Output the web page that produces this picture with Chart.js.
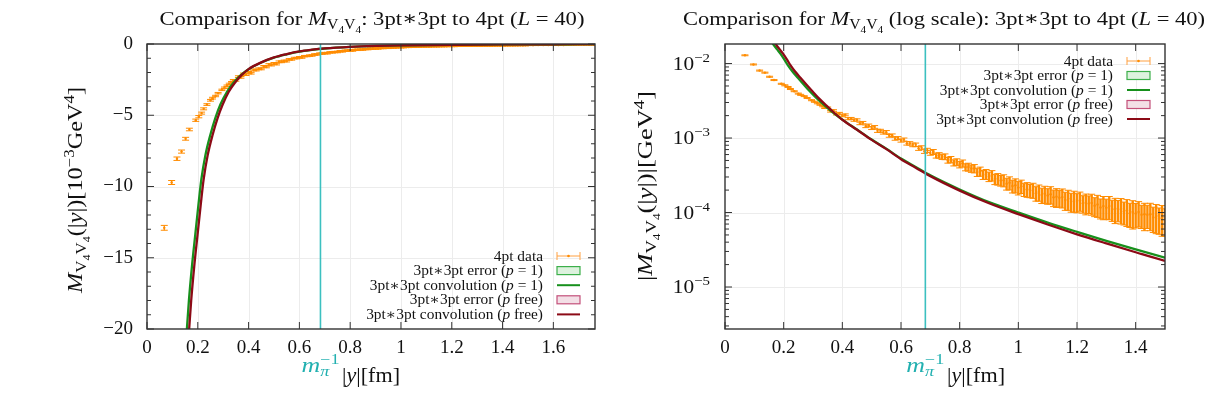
<!DOCTYPE html>
<html><head><meta charset="utf-8">
<script src="https://cdn.jsdelivr.net/npm/chart.js@4.4.0/dist/chart.umd.min.js"></script>
<style>
html,body{margin:0;padding:0;background:#fff;}
#wrap{position:relative;width:1223px;height:393px;overflow:hidden;background:#fff;}
canvas{position:absolute;top:0;}
</style>
</head><body>
<div id="wrap">
<canvas id="cLin" width="611" height="393" style="left:0px"></canvas>
<canvas id="cLog" width="612" height="393" style="left:611px"></canvas>
</div>
<script>
// ---------------- data ----------------
// 4pt data: |y| [fm], M_V4V4 [1e-3 GeV^4], error [1e-3 GeV^4]
const x4pt = [0.068,0.097,0.118,0.136,0.152,0.167,0.192,0.204,0.215,0.223,0.236,0.250,0.258,0.270,0.280,0.295,0.305,0.315,0.324,0.333,
  0.34,0.35,0.36,0.37,0.38,0.39,0.40,0.41,0.42,0.43,0.44,0.45,0.46,0.47,0.48,0.49,0.50,0.51,0.52,0.53,0.54,0.55,
  0.56,0.57,0.58,0.59,0.60,0.61,0.62,0.63,0.64,0.65,0.66,0.67,0.68,0.69,0.70,
  0.71,0.72,0.73,0.74,0.75,0.76,0.77,0.78,0.79,0.80,0.81,0.82,0.83,0.84,0.85,0.86,0.87,0.88,0.89,0.90,
  0.91,0.92,0.93,0.94,0.95,0.96,0.97,0.98,0.99,1.00,
  1.01,1.02,1.03,1.04,1.05,1.06,1.07,1.08,1.09,1.10,1.11,1.12,1.13,1.14,1.15,1.16,1.17,1.18,1.19,1.20,
  1.21,1.22,1.23,1.24,1.25,1.26,1.27,1.28,1.29,1.30,1.31,1.32,1.33,1.34,1.35,1.36,1.37,1.38,1.39,1.40,
  1.41,1.42,1.43,1.44,1.45,1.46,1.47,1.48,1.49,1.50,
  1.52,1.54,1.56,1.58,1.60,1.62,1.64,1.66,1.68,1.70,1.72,1.74,1.76];
const m4pt = [-12.9,-9.72,-8.05,-7.55,-6.65,-6.0,-5.35,-5.1,-4.85,-4.55,-4.25,-3.95,-3.8,-3.65,-3.45,-3.22,-3.07,-2.93,-2.8,-2.68,
  -2.55,-2.55,-2.29,-2.34,-2.10,-2.15,-1.99,-2.05,-1.82,-1.83,-1.74,-1.75,-1.57,-1.61,-1.44,-1.48,-1.36,-1.41,-1.25,-1.25,-1.19,-1.20,
  -1.07,-1.09,-0.979,-1.00,-0.926,-0.956,-0.849,-0.848,-0.81,-0.811,-0.728,-0.742,-0.667,-0.683,-0.632,
  -0.651,-0.582,-0.586,-0.56,-0.562,-0.504,-0.515,-0.466,-0.476,-0.441,-0.457,-0.407,-0.409,-0.39,-0.39,-0.349,-0.357,-0.322,-0.328,-0.304,
  -0.315,-0.281,-0.283,-0.27,-0.271,-0.244,-0.251,-0.227,-0.233,-0.216,
  -0.226,-0.204,-0.206,-0.198,-0.201,-0.182,-0.188,-0.172,-0.179,-0.169,-0.176,-0.160,-0.163,-0.158,-0.161,-0.147,-0.153,-0.141,-0.147,-0.139,
  -0.146,-0.133,-0.135,-0.132,-0.134,-0.123,-0.128,-0.117,-0.122,-0.116,-0.122,-0.111,-0.113,-0.110,-0.112,-0.103,-0.107,-0.098,-0.102,-0.097,
  -0.102,-0.093,-0.095,-0.093,-0.095,-0.086,-0.090,-0.083,-0.086,-0.080,
  -0.080,-0.077,-0.075,-0.072,-0.069,-0.067,-0.065,-0.063,-0.061,-0.058,-0.056,-0.055,-0.053];
const e4pt = [0.17,0.14,0.12,0.11,0.10,0.09,0.08,0.08,0.07,0.07,0.06,0.06,0.06,0.05,0.05,0.05,0.05,0.05,0.05,0.05,
  0.06,0.06,0.06,0.06,0.06,0.06,0.06,0.06,0.06,0.06,0.06,0.06,0.06,0.06,0.06,0.06,0.06,0.06,0.06,0.06,0.06,0.06,
  0.045,0.045,0.045,0.045,0.045,0.045,0.045,0.045,0.045,0.045,0.045,0.045,0.045,0.045,0.045,
  0.05,0.044,0.05,0.044,0.05,0.044,0.05,0.044,0.05,0.044,0.05,0.044,0.05,0.044,0.05,0.044,0.05,0.044,0.05,0.044,
  0.05,0.044,0.05,0.044,0.05,0.044,0.05,0.044,0.05,0.044,
  0.046,0.04,0.046,0.04,0.046,0.04,0.046,0.04,0.046,0.04,0.046,0.04,0.046,0.04,0.046,0.04,0.046,0.04,0.046,0.04,
  0.042,0.035,0.042,0.035,0.042,0.035,0.042,0.035,0.042,0.035,0.042,0.035,0.042,0.035,0.042,0.035,0.042,0.035,0.042,0.035,
  0.038,0.032,0.038,0.032,0.038,0.032,0.038,0.032,0.038,0.032,
  0.03,0.03,0.03,0.03,0.03,0.03,0.03,0.03,0.03,0.03,0.03,0.03,0.03];

// 3pt*3pt convolution (p = 1)
const xConvP1 = [0.150,0.157,0.165,0.177,0.190,0.203,0.214,0.230,0.249,0.269,0.289,0.315,0.341,0.367,0.400,0.450,0.500,0.550,0.600,0.650,0.700,0.800,0.900,1.000,1.100,1.200,1.300,1.400,1.500,1.600,1.700,1.764];
const mConvP1 = [-22.0,-20.0,-18.0,-15.6,-13.4,-11.2,-9.5,-7.8,-6.4,-5.2,-4.25,-3.35,-2.70,-2.22,-1.77,-1.30,-0.955,-0.72,-0.53,-0.41,-0.316,-0.204,-0.138,-0.100,-0.0733,-0.055,-0.0417,-0.032,-0.0248,-0.0195,-0.0155,-0.0135];
// 3pt*3pt convolution (p free)
const xConvPfree = [0.158,0.166,0.174,0.186,0.199,0.212,0.223,0.239,0.258,0.278,0.298,0.322,0.347,0.370,0.400,0.450,0.500,0.550,0.600,0.650,0.700,0.800,0.900,1.000,1.100,1.200,1.300,1.400,1.500,1.600,1.700,1.764];
const mConvPfree = [-22.0,-20.0,-18.0,-15.6,-13.4,-11.2,-9.5,-7.8,-6.4,-5.2,-4.25,-3.35,-2.70,-2.22,-1.76,-1.29,-0.945,-0.71,-0.52,-0.40,-0.308,-0.197,-0.133,-0.095,-0.069,-0.051,-0.0385,-0.0293,-0.0224,-0.0175,-0.0139,-0.012];

const mPiInverse = 0.683;   // fm
const linXTicks = [0,0.2,0.4,0.6,0.8,1,1.2,1.4,1.6];
const linYTicks = [-20,-15,-10,-5,0];
const logXTicks = [0,0.2,0.4,0.6,0.8,1,1.2,1.4];
const logYTicks = [1e-2,1e-3,1e-4,1e-5];
const logYLabels = ['10^{−2}','10^{−3}','10^{−4}','10^{−5}'];
const legendLabels = ['4pt data','3pt∗3pt error ($p$ = 1)','3pt∗3pt convolution ($p$ = 1)','3pt∗3pt error ($p$ free)','3pt∗3pt convolution ($p$ free)'];
const titleLin = 'Comparison for $M$_{V},{4}_{V},{4}: 3pt∗3pt to 4pt ($L$ = 40)';
const titleLog = 'Comparison for $M$_{V},{4}_{V},{4} (log scale): 3pt∗3pt to 4pt ($L$ = 40)';
const yTitleLin = '$M$_{V},{4}_{V},{4}(|$y$|)[10^{−3}GeV^{4}]';
const yTitleLog = '|$M$_{V},{4}_{V},{4}(|$y$|)|[GeV^{4}]';
const xTitle = '|$y$|[fm]';
const mPiLabel = '$m$~{$π}^{−1}';

// ---------------- styling ----------------
const FONT = "'Liberation Serif','DejaVu Serif',serif";
const TXT = '#111';
const ORANGE = '#ff8c00';
const GREEN = '#17901c';
const DRED = '#8c0a16';
const CYAN = '#3cc0c0';

// ---------------- rich text helpers ----------------
function rich(str){
  const segs=[]; let i=0, buf='', it=false;
  const flush=()=>{ if(buf){segs.push({t:buf,lvl:0,it}); buf='';} };
  while(i<str.length){
    const c=str[i];
    if(c==='$'){flush(); it=!it; i++; continue;}
    if('_,^~'.includes(c) && str[i+1]==='{'){
      flush(); const j=str.indexOf('}',i); let t=str.slice(i+2,j); let sit=false;
      if(t[0]==='$'){sit=true;t=t.slice(1);}
      segs.push({t, lvl: (c==='_'||c==='~')?1:(c===','?2:-1), it:sit, hold:c==='~'});
      i=j+1; continue;
    }
    buf+=c; i++;
  }
  flush(); return segs;
}
function segFont(s,size){
  const k = s.lvl===0?1:(s.lvl===2?0.5:0.7);
  return (s.it?'italic ':'') + (size*k).toFixed(2) + 'px ' + FONT;
}
function segDy(s,size){ return s.lvl===1?0.22*size:(s.lvl===2?0.40*size:(s.lvl===-1?-0.40*size:0)); }
// opts: {sx} horizontal stretch or {target} total width
function drawRich(ctx, str, x, y, size, align, color, opts){
  opts = opts||{};
  const segs = rich(str);
  const widths = segs.map(s=>{ctx.font=segFont(s,size); return ctx.measureText(s.t).width;});
  let w=0, held=0;
  segs.forEach((s,k)=>{ if(s.hold){held=widths[k];} else { w += held?Math.max(held,widths[k]):widths[k]; held=0; } });
  w += held;
  const sx = opts.target ? opts.target/w : (opts.sx||1);
  const tw = w*sx;
  const start = align==='center'? x-tw/2 : (align==='right'? x-tw : x);
  ctx.save();
  ctx.translate(start, y); ctx.scale(sx,1);
  ctx.fillStyle=color; ctx.textBaseline='alphabetic'; ctx.textAlign='left';
  let cx=0; held=0;
  segs.forEach((s,k)=>{
    ctx.font=segFont(s,size);
    ctx.fillText(s.t, cx, segDy(s,size));
    if(s.hold){held=widths[k];} else { cx += held?Math.max(held,widths[k]):widths[k]; held=0; }
  });
  ctx.restore();
  return tw;
}

// ---------------- decoration plugin ----------------
function makeDeco(cfg){
  return {
    id:'deco',
    beforeDatasetsDraw(chart){
      const {ctx, chartArea:a, scales:{x,y}} = chart;
      ctx.save();
      ctx.strokeStyle='#ececec'; ctx.lineWidth=1;
      cfg.xTicks.forEach(v=>{ const p=Math.round(x.getPixelForValue(v))+0.5; if(p>a.left+2&&p<a.right-2){ctx.beginPath();ctx.moveTo(p,a.top);ctx.lineTo(p,a.bottom);ctx.stroke();}});
      cfg.yTicks.forEach(v=>{ const p=Math.round(y.getPixelForValue(v))+0.5; if(p>a.top+2&&p<a.bottom-2){ctx.beginPath();ctx.moveTo(a.left,p);ctx.lineTo(a.right,p);ctx.stroke();}});
      // error bars of 4pt data
      ctx.beginPath(); ctx.rect(a.left,a.top,a.right-a.left,a.bottom-a.top); ctx.clip();
      ctx.strokeStyle=ORANGE;
      x4pt.forEach((xv,i)=>{
        const lo = cfg.tf(m4pt[i], -e4pt[i]), hi = cfg.tf(m4pt[i], e4pt[i]);
        const px = x.getPixelForValue(xv), p1=y.getPixelForValue(lo), p2=y.getPixelForValue(hi);
        ctx.lineWidth = (xv>0.7) ? cfg.barW : 1.3;
        ctx.beginPath(); ctx.moveTo(px,p1); ctx.lineTo(px,p2); ctx.stroke();
        ctx.lineWidth=1;
        ctx.beginPath();
        ctx.moveTo(px-3.5,p1); ctx.lineTo(px+3.5,p1);
        ctx.moveTo(px-3.5,p2); ctx.lineTo(px+3.5,p2);
        ctx.stroke();
      });
      ctx.restore();
    },
    afterDatasetsDraw(chart){
      const {ctx, chartArea:a, scales:{x,y}} = chart;
      ctx.save();
      // m_pi^-1 line
      const pm = x.getPixelForValue(mPiInverse);
      ctx.strokeStyle=CYAN; ctx.lineWidth=1.6;
      ctx.beginPath(); ctx.moveTo(pm,a.top); ctx.lineTo(pm,a.bottom); ctx.stroke();
      // frame
      ctx.strokeStyle='#333'; ctx.lineWidth=1.4;
      ctx.strokeRect(a.left,a.top,a.right-a.left,a.bottom-a.top);
      // ticks
      ctx.lineWidth=1;
      ctx.beginPath();
      cfg.xTicks.forEach(v=>{ const p=x.getPixelForValue(v); ctx.moveTo(p,a.bottom); ctx.lineTo(p,a.bottom-7); ctx.moveTo(p,a.top); ctx.lineTo(p,a.top+7);});
      cfg.yMajor.forEach(v=>{ const p=y.getPixelForValue(v); ctx.moveTo(a.left,p); ctx.lineTo(a.left+7,p); ctx.moveTo(a.right,p); ctx.lineTo(a.right-7,p);});
      cfg.yMinor.forEach(v=>{ const p=y.getPixelForValue(v); if(p<a.top||p>a.bottom) return; ctx.moveTo(a.left,p); ctx.lineTo(a.left+4,p); ctx.moveTo(a.right,p); ctx.lineTo(a.right-4,p);});
      ctx.stroke();
      // legend
      const L = cfg.legend;
      legendLabels.forEach((lab,i)=>{
        const cy = L.top + i*L.dy;
        drawRich(ctx, lab, L.textRight, cy+4.5, 14, 'right', TXT, {sx:1.1});
        const x1=L.sx1, x2=L.sx2;
        ctx.save();
        if(i===0){
          ctx.strokeStyle='#ffa040'; ctx.lineWidth=1;
          ctx.beginPath(); ctx.moveTo(x1,cy); ctx.lineTo(x2,cy);
          ctx.moveTo(x1,cy-4); ctx.lineTo(x1,cy+4); ctx.moveTo(x2,cy-4); ctx.lineTo(x2,cy+4); ctx.stroke();
          ctx.fillStyle=ORANGE; ctx.beginPath(); ctx.arc((x1+x2)/2,cy,1.3,0,Math.PI*2); ctx.fill();
        } else if(i===1||i===3){
          ctx.fillStyle = i===1?'#ddf2de':'#f3dfe6';
          ctx.strokeStyle = i===1?'#3caf4a':'#c4507a';
          ctx.lineWidth=1.2;
          ctx.fillRect(x1,cy-4,x2-x1,8); ctx.strokeRect(x1,cy-4,x2-x1,8);
        } else {
          ctx.strokeStyle = i===2?GREEN:DRED; ctx.lineWidth=2;
          ctx.beginPath(); ctx.moveTo(x1,cy); ctx.lineTo(x2,cy); ctx.stroke();
        }
        ctx.restore();
      });
      ctx.restore();
    },
    afterDraw(chart){
      const {ctx, chartArea:a, scales:{x,y}} = chart;
      ctx.save();
      drawRich(ctx, cfg.title, cfg.titleX, 25, 19.5, 'center', TXT, {target:cfg.titleW});
      drawRich(ctx, xTitle, cfg.xTitleX, 382, 20, 'center', TXT, {target:58});
      drawRich(ctx, mPiLabel, x.getPixelForValue(mPiInverse), 372, 20, 'center', '#22b0b0', {target:38});
      ctx.save(); ctx.translate(cfg.yTitleX, cfg.yTitleY); ctx.rotate(-Math.PI/2);
      drawRich(ctx, cfg.yTitle, 0, 0, 20, 'center', TXT, {target:cfg.yTitleW});
      ctx.restore();
      if(cfg.logLabels){
        logYTicks.forEach((v,i)=>{ drawRich(ctx, logYLabels[i], a.left-15, y.getPixelForValue(v)+6, 19, 'right', TXT, {sx:1.12}); });
      }
      ctx.restore();
    }
  };
}

function fmtX(v){ return String(Math.round(v*10)/10); }

// ---------------- linear chart ----------------
const linMinor = []; for(let v=-19; v<0; v++){ if(v%5!==0) linMinor.push(v); }
new Chart(document.getElementById('cLin'), {
  type:'line',
  data:{ datasets:[
    { label:'4pt data', data:x4pt.map((x,i)=>({x, y:m4pt[i]})), showLine:false, pointRadius:1.2, pointBackgroundColor:ORANGE, pointBorderWidth:0, order:3 },
    { label:'3pt*3pt convolution (p = 1)', data:xConvP1.map((x,i)=>({x, y:mConvP1[i]})), borderColor:GREEN, borderWidth:2.3, pointRadius:0, cubicInterpolationMode:'monotone', order:2 },
    { label:'3pt*3pt convolution (p free)', data:xConvPfree.map((x,i)=>({x, y:mConvPfree[i]})), borderColor:DRED, borderWidth:2.3, pointRadius:0, cubicInterpolationMode:'monotone', order:1 }
  ]},
  options:{
    responsive:false, animation:false, events:[], devicePixelRatio:1,
    layout:{ padding:{ left:0, top:44, right:16, bottom:0 } },
    plugins:{ legend:{display:false}, tooltip:{enabled:false}, title:{display:false} },
    scales:{
      x:{ type:'linear', min:0, max:1.764,
          afterFit:s=>{s.height=64;},
          afterBuildTicks:s=>{ s.ticks = linXTicks.map(v=>({value:v})); },
          grid:{display:false, drawTicks:false}, border:{display:false},
          ticks:{ autoSkip:false, maxRotation:0, padding:8, color:TXT, font:{family:FONT,size:19}, callback:v=>fmtX(v) } },
      y:{ type:'linear', min:-20, max:0,
          afterFit:s=>{s.width=147;},
          afterBuildTicks:s=>{ s.ticks = linYTicks.map(v=>({value:v})); },
          grid:{display:false, drawTicks:false}, border:{display:false},
          ticks:{ autoSkip:false, padding:14, color:TXT, font:{family:FONT,size:19}, callback:v=> v<0?'\u2212'+Math.abs(v):'0' } }
    }
  },
  plugins:[ makeDeco({ tf:(m,e)=>m+e, barW:1.3, xTicks:linXTicks, yTicks:linYTicks, yMajor:linYTicks, yMinor:linMinor,
    title:titleLin, titleX:372, titleW:425, yTitle:yTitleLin, yTitleX:82, yTitleY:190, yTitleW:206, xTitleX:371, logLabels:false,
    legend:{ top:256, dy:14.6, textRight:543, sx1:557, sx2:580 } }) ]
});

// ---------------- log chart ----------------
const logMinor = []; for(let e=-6; e<=-2; e++){ for(let k=2;k<=9;k++){ logMinor.push(k*Math.pow(10,e)); } }
new Chart(document.getElementById('cLog'), {
  type:'line',
  data:{ datasets:[
    { label:'4pt data', data:x4pt.map((x,i)=>({x, y:Math.abs(m4pt[i])*1e-3})), showLine:false, pointRadius:1.2, pointBackgroundColor:ORANGE, pointBorderWidth:0, order:3 },
    { label:'3pt*3pt convolution (p = 1)', data:xConvP1.map((x,i)=>({x, y:Math.abs(mConvP1[i])*1e-3})), borderColor:GREEN, borderWidth:2.3, pointRadius:0, cubicInterpolationMode:'monotone', order:2 },
    { label:'3pt*3pt convolution (p free)', data:xConvPfree.map((x,i)=>({x, y:Math.abs(mConvPfree[i])*1e-3})), borderColor:DRED, borderWidth:2.3, pointRadius:0, cubicInterpolationMode:'monotone', order:1 }
  ]},
  options:{
    responsive:false, animation:false, events:[], devicePixelRatio:1,
    layout:{ padding:{ left:0, top:44, right:58, bottom:0 } },
    plugins:{ legend:{display:false}, tooltip:{enabled:false}, title:{display:false} },
    scales:{
      x:{ type:'linear', min:0, max:1.5,
          afterFit:s=>{s.height=64;},
          afterBuildTicks:s=>{ s.ticks = logXTicks.map(v=>({value:v})); },
          grid:{display:false, drawTicks:false}, border:{display:false},
          ticks:{ autoSkip:false, maxRotation:0, padding:8, color:TXT, font:{family:FONT,size:19}, callback:v=>fmtX(v) } },
      y:{ type:'logarithmic', min:2.73e-6, max:0.0183,
          afterFit:s=>{s.width=114;},
          afterBuildTicks:s=>{ s.ticks = logYTicks.map(v=>({value:v})); },
          grid:{display:false, drawTicks:false}, border:{display:false},
          ticks:{ display:false } }
    }
  },
  plugins:[ makeDeco({ tf:(m,e)=>(Math.abs(m)+e)*1e-3, barW:2.4, xTicks:logXTicks, yTicks:logYTicks, yMajor:logYTicks, yMinor:logMinor,
    title:titleLog, titleX:333, titleW:522, yTitle:yTitleLog, yTitleX:41, yTitleY:186, yTitleW:190, xTitleX:365, logLabels:true,
    legend:{ top:61, dy:14.5, textRight:502, sx1:516, sx2:539 } }) ]
});
</script>
</body></html>
